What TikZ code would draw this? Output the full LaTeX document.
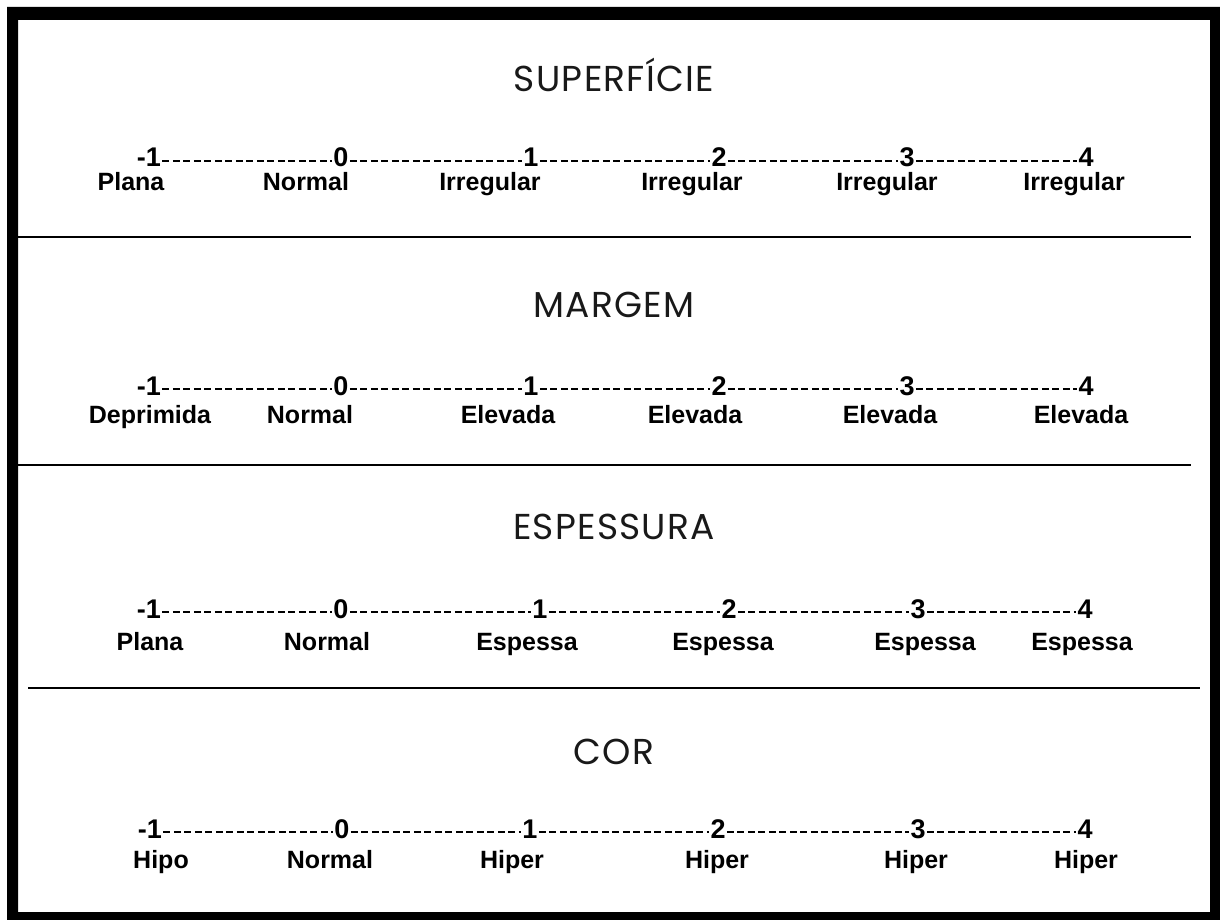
\documentclass[tikz,border=0pt]{standalone}
\usepackage{fontspec}
\setmainfont{Liberation Sans}
\newfontfamily\titlefont[LetterSpace=3.5]{Poppins}
\begin{document}
\begin{tikzpicture}[x=1pt,y=-1pt,
 num/.style={font=\fontsize{27}{27}\selectfont\bfseries, anchor=base, inner sep=1.2pt},
 lab/.style={font=\fontsize{25}{25}\selectfont\bfseries, anchor=base, inner sep=0pt},
 ttl/.style={font=\titlefont\fontsize{36}{36}\selectfont, anchor=base, inner sep=0pt, text=black!90},
 dots/.style={line width=1.8pt, dash pattern=on 7pt off 3.5pt},
 sep/.style={line width=2.8pt}]
\useasboundingbox (0,0) rectangle (1220,920);
\fill[black, even odd rule] (7,7) rectangle (1220,920) (18,20) rectangle (1210,912);
% separators
\coordinate (s1a) at (18,237); \coordinate (s1b) at (1191,237);
\coordinate (s2a) at (18,465); \coordinate (s2b) at (1191,465);
\coordinate (s3a) at (28,688); \coordinate (s3b) at (1200,688);
\draw[sep] (s1a) -- (s1b);
\draw[sep] (s2a) -- (s2b);
\draw[sep] (s3a) -- (s3b);
% titles
\node[ttl] (t1) at (614,92) {SUPERFÍCIE};
\node[ttl] (t2) at (614,317) {MARGEM};
\node[ttl] (t3) at (614,539) {ESPESSURA};
\node[ttl] (t4) at (614,764) {COR};
% row 1
\foreach \i/\x/\t in {0/149/-1,1/341/0,2/531/1,3/719/2,4/907/3,5/1086/4}
  \node[num] (a\i) at (\x,167) {\t};
\foreach \i/\x/\t in {0/131/Plana,1/306/Normal,2/490/Irregular,3/692/Irregular,4/887/Irregular,5/1074/Irregular}
  \node[lab] (al\i) at (\x,190) {\t};
% row 2
\foreach \i/\x/\t in {0/149/-1,1/341/0,2/531/1,3/719/2,4/907/3,5/1086/4}
  \node[num] (b\i) at (\x,395) {\t};
\foreach \i/\x/\t in {0/150/Deprimida,1/310/Normal,2/508/Elevada,3/695/Elevada,4/890/Elevada,5/1081/Elevada}
  \node[lab] (bl\i) at (\x,423) {\t};
% row 3
\foreach \i/\x/\t in {0/149/-1,1/341/0,2/540/1,3/729/2,4/918/3,5/1085/4}
  \node[num] (c\i) at (\x,618) {\t};
\foreach \i/\x/\t in {0/150/Plana,1/327/Normal,2/527/Espessa,3/723/Espessa,4/925/Espessa,5/1082/Espessa}
  \node[lab] (cl\i) at (\x,650) {\t};
% row 4
\foreach \i/\x/\t in {0/150/-1,1/342/0,2/530/1,3/718/2,4/918/3,5/1085/4}
  \node[num] (d\i) at (\x,838) {\t};
\foreach \i/\x/\t in {0/161/Hipo,1/330/Normal,2/512/Hiper,3/717/Hiper,4/916/Hiper,5/1086/Hiper}
  \node[lab] (dl\i) at (\x,868) {\t};
% dashed connectors
\foreach \r in {a,b,c,d}
  \foreach \i/\j in {0/1,1/2,2/3,3/4,4/5}
    \draw[dots] ([yshift=6pt]\r\i.base east) -- ([yshift=6pt]\r\j.base west);
\end{tikzpicture}
\end{document}
